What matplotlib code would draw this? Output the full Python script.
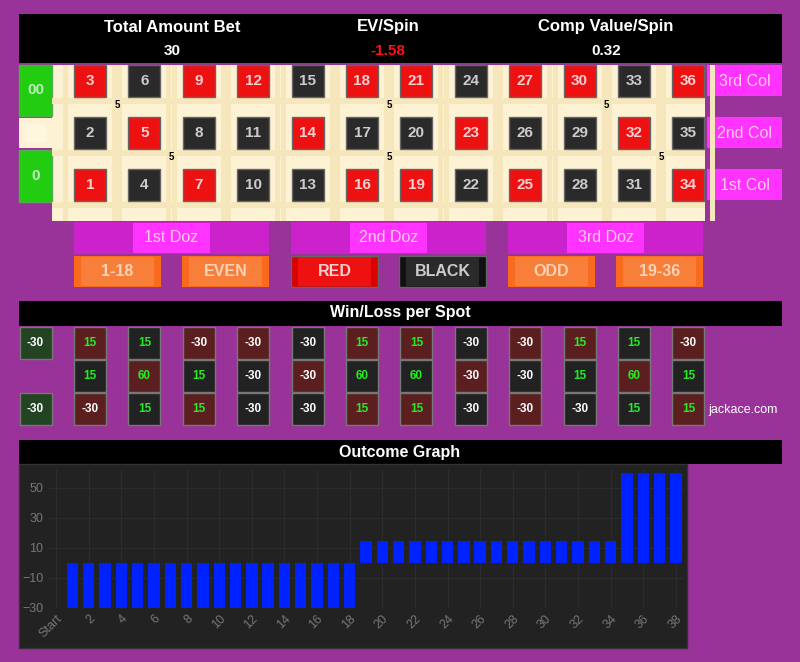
import matplotlib
matplotlib.use("Agg")
import matplotlib.pyplot as plt
from matplotlib.patches import Rectangle

plt.rcParams['font.family'] = 'Liberation Sans'

# header stats
header_titles = ["Total Amount Bet", "EV/Spin", "Comp Value/Spin"]
header_values = ["30", "-1.58", "0.32"]
header_colors = ["white", "#ff1111", "white"]

# table layout: rows top->bottom
number_rows = [[3, 6, 9, 12, 15, 18, 21, 24, 27, 30, 33, 36],
               [2, 5, 8, 11, 14, 17, 20, 23, 26, 29, 32, 35],
               [1, 4, 7, 10, 13, 16, 19, 22, 25, 28, 31, 34]]
red_numbers = [1, 3, 5, 7, 9, 12, 14, 16, 18, 19, 21, 23, 25, 27, 30, 32, 34, 36]
col_labels = ["3rd Col", "2nd Col", "1st Col"]
dozen_labels = ["1st Doz", "2nd Doz", "3rd Doz"]
even_labels = ["1-18", "EVEN", "RED", "BLACK", "ODD", "19-36"]
# split bets: (column gap after index, row boundary index), amount
chips = [(0.5, 0.5, "5"), (5.5, 0.5, "5"), (9.5, 0.5, "5"),
         (1.5, 1.5, "5"), (5.5, 1.5, "5"), (10.5, 1.5, "5")]

# win/loss per spot
zero_results = {"00": -30, "0": -30}
spot_results = {
    3: 15, 6: 15, 9: -30, 12: -30, 15: -30, 18: 15, 21: 15, 24: -30, 27: -30, 30: 15, 33: 15, 36: -30,
    2: 15, 5: 60, 8: 15, 11: -30, 14: -30, 17: 60, 20: 60, 23: -30, 26: -30, 29: 15, 32: 60, 35: 15,
    1: -30, 4: 15, 7: 15, 10: -30, 13: -30, 16: 15, 19: 15, 22: -30, 25: -30, 28: -30, 31: 15, 34: 15,
}

# outcome graph (sorted outcomes)
outcome_values = [-30] * 18 + [15] * 16 + [60] * 4
outcome_ticks = list(range(0, 39, 2))
outcome_tick_labels = ["Start"] + [str(t) for t in outcome_ticks[1:]]
y_ticks = [-30, -10, 10, 30, 50]

PURPLE = "#993399"
fig = plt.figure(figsize=(8, 6.62), dpi=100, facecolor=PURPLE)
ax = fig.add_axes([0, 0, 1, 1])
ax.set_xlim(0, 800)
ax.set_ylim(662, 0)
ax.axis("off")

def box(x0, y0, x1, y1, fc, ec="none", lw=1, z=1):
    ax.add_patch(Rectangle((x0, y0), x1 - x0, y1 - y0, facecolor=fc, edgecolor=ec, lw=lw, zorder=z))

def txt(x, y, s, size=11, color="white", weight="bold", z=5):
    ax.text(x, y, s, ha="center", va="center", fontsize=size, color=color, fontweight=weight, zorder=z)

# header
box(19, 14, 782, 63, "black")
for i, (t, v, c) in enumerate(zip(header_titles, header_values, header_colors)):
    cx = [172, 388, 606][i]
    txt(cx, 27, t, 12)
    txt(cx, 51, v, 11, c)

col_x = lambda c: 90 + c * 54.4
row_y = lambda r: 81 + r * 52

# felt
box(52, 65, 705, 221, "#fdf3d4", z=1)
for c in range(12):
    box(col_x(c) - 27, 65, col_x(c) - 22, 221, "#f6e6bb", z=1.5)
    box(col_x(c) + 22, 65, col_x(c) + 27, 221, "#f6e6bb", z=1.5)
for yy in [98, 150, 202]:
    box(52, yy, 705, yy + 6, "#f6e6bb", z=1.5)
box(19, 65, 52, 116, "#22cc11", "#55aa55")
txt(35.5, 90, "00", 11, "#bbeebb")
box(19, 118, 52, 148, "#fdf3d4")
box(26, 124, 46, 142, "#fff6e0")
box(19, 150, 52, 202, "#22cc11", "#55aa55")
txt(35.5, 176, "0", 11, "#bbeebb")
for r, row in enumerate(number_rows):
    for c, n in enumerate(row):
        fc = "#ee1111" if n in red_numbers else "#2a2a2a"
        tc = "#f8d0d0" if n in red_numbers else "#cccccc"
        box(col_x(c) - 16, row_y(r) - 16, col_x(c) + 16, row_y(r) + 16, fc, "#666666", 1, 2)
        txt(col_x(c), row_y(r), str(n), 11, tc)
    box(707, row_y(r) - 16, 782, row_y(r) + 15, "#ff33ff")
    txt(744.5, row_y(r), col_labels[r], 11.5, "#ffccee", "normal")
for cg, rg, s in chips:
    txt(90 + cg * 54.4, 81 + rg * 52 - 2, s, 7, "black")

# dozens
for i, lab in enumerate(dozen_labels):
    x0 = 74 + i * 217
    box(x0, 222, x0 + 195, 254, "#cc22cc")
    box(x0 + 59, 223, x0 + 136, 253, "#ff33ff")
    txt(x0 + 97.5, 238, lab, 11.5, "#ffccee", "normal")

# even-money bets
for i, lab in enumerate(even_labels):
    x0 = 74 + (i // 2) * 217 + (i % 2) * 108
    if lab == "RED":
        fc, ic, tc, ec = "#dd0000", "#ee1111", "#f8d0d0", "#666666"
    elif lab == "BLACK":
        fc, ic, tc, ec = "#111111", "#2a2a2a", "#cccccc", "#666666"
    else:
        fc, ic, tc, ec = "#f96a1e", "#f77f3a", "#fcd2b8", "none"
    box(x0, 256, x0 + 87, 287, fc, ec)
    box(x0 + 7, 257, x0 + 80, 286, ic)
    txt(x0 + 43.5, 271.5, lab, 11.5, tc)

# win/loss per spot
box(19, 301, 782, 326, "black")
txt(400, 313, "Win/Loss per Spot", 11.5)

def spot(cx, cy, val, fc):
    box(cx - 16, cy - 16, cx + 16, cy + 16, fc, "#777777", 1, 2)
    txt(cx, cy, str(val), 8.5, "#22ee22" if val > 0 else "white")

spot(35.5, 343, zero_results["00"], "#224422")
spot(35.5, 409, zero_results["0"], "#224422")
for r, row in enumerate(number_rows):
    for c, n in enumerate(row):
        fc = "#5c1f1f" if n in red_numbers else "#222222"
        spot(col_x(c), 343 + r * 33, spot_results[n], fc)
ax.text(743, 410, "jackace.com", ha="center", va="center", fontsize=9, color="white")

# outcome graph
box(19, 440, 782, 464, "black")
txt(400, 452, "Outcome Graph", 11.5)
box(19, 464, 687, 648, "#222222", "#333333")

bx = fig.add_axes([48 / 800, 1 - 608 / 662, (684 - 48) / 800, (608 - 470) / 662])
bx.set_facecolor("#222222")
bx.bar(range(1, len(outcome_values) + 1), outcome_values, width=0.7, color="#0022ff")
bx.set_xlim(-0.5, 38.5)
bx.set_ylim(-30, 62)
bx.set_yticks(y_ticks)
bx.set_xticks(outcome_ticks)
bx.set_xticklabels(outcome_tick_labels, rotation=45, ha="right", rotation_mode="anchor")
bx.tick_params(colors="#777777", labelsize=9, length=0)
bx.grid(True, color="#2c2c2c", lw=0.8)
bx.set_axisbelow(True)
for s in bx.spines.values():
    s.set_visible(False)

fig.savefig("out.png", dpi=100, facecolor=PURPLE)
